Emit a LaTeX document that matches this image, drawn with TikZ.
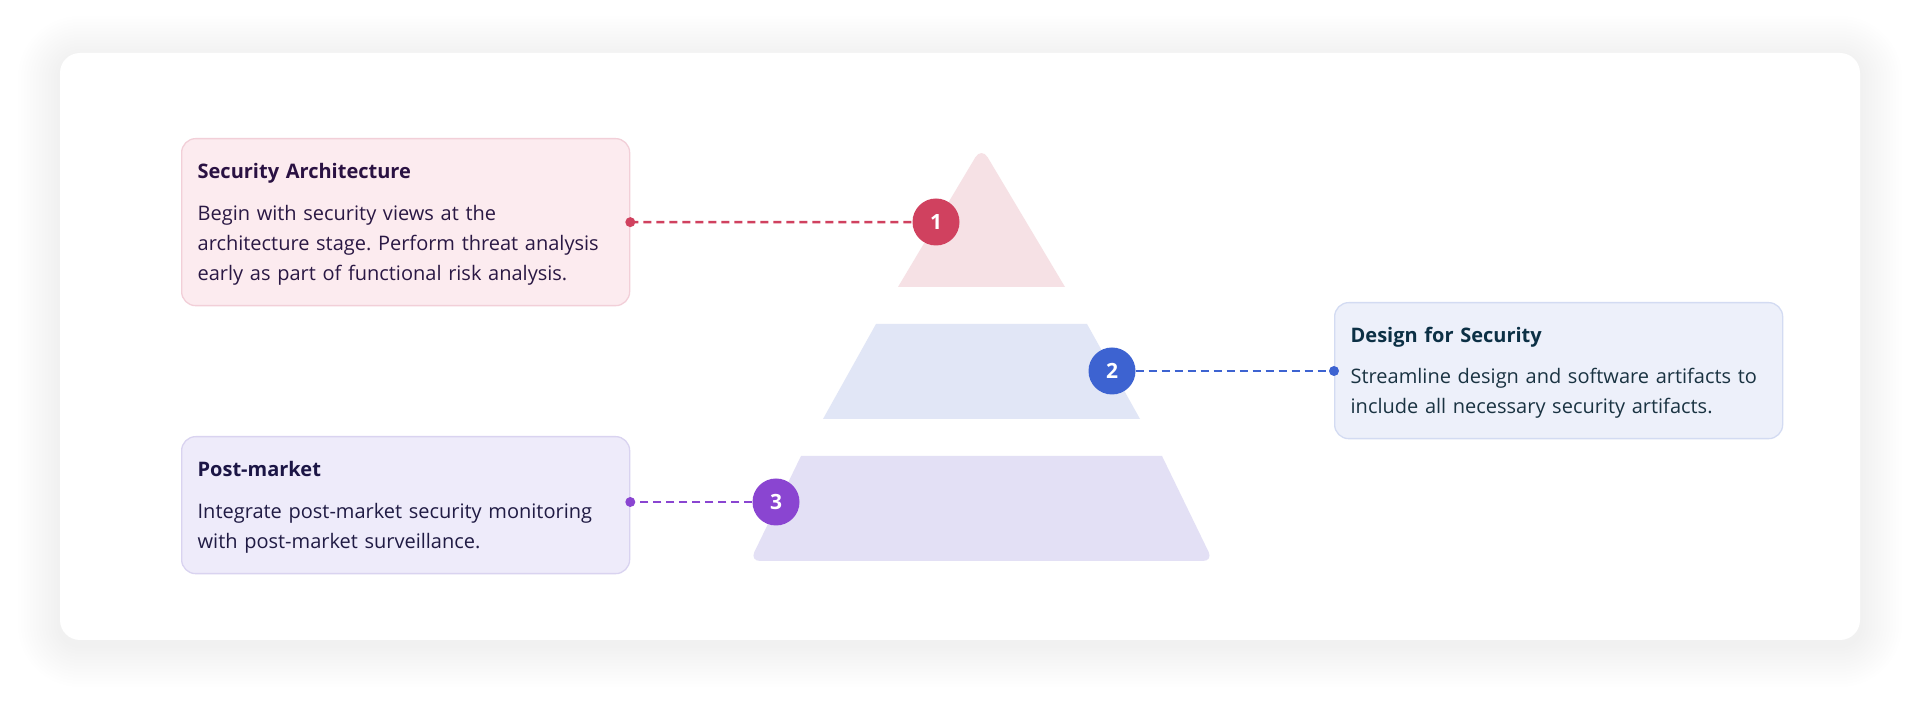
\documentclass[tikz,border=0pt]{standalone}
\usepackage{fontspec}
\setmainfont{Open Sans}
\usepackage{tkz-euclide}
\usetikzlibrary{calc}
\definecolor{PinkLayer}{HTML}{F6E1E5}
\definecolor{PinkBox}{HTML}{FCEBEF}
\definecolor{PinkLine}{HTML}{F2CFD8}
\definecolor{BlueLayer}{HTML}{E1E6F6}
\definecolor{BlueBox}{HTML}{EDF0FA}
\definecolor{BlueLine}{HTML}{D3DBF2}
\definecolor{VioletLayer}{HTML}{E3E0F5}
\definecolor{VioletBox}{HTML}{EEEBFA}
\definecolor{VioletLine}{HTML}{D9D3F0}
\definecolor{RedClr}{HTML}{D0415F}
\definecolor{BlueClr}{HTML}{3D63D1}
\definecolor{VioletClr}{HTML}{8A45D1}
\definecolor{TitleA}{HTML}{2A1142}
\definecolor{TextA}{HTML}{2A1844}
\definecolor{TitleB}{HTML}{0C3045}
\definecolor{TextB}{HTML}{1A3342}
\definecolor{TitleC}{HTML}{1B1545}
\definecolor{TextC}{HTML}{201B44}
\frenchspacing

\tikzset{
  infobox/.style={draw=#1Line, fill=#1Box, line width=1.3pt, rounded corners=14pt,
    anchor=north west, text width=416pt, inner xsep=16pt, inner ysep=0pt,
    align=left, font=\fontsize{20}{30}\selectfont},
  badge/.style={circle, fill=#1, minimum size=47pt, inner sep=0pt, text=white,
    font=\bfseries\fontsize{21}{21}\selectfont},
  link/.style={#1, line width=2.5pt, dash pattern=on 8pt off 5pt},
}

\begin{document}
\begin{tikzpicture}[x=1pt,y=1pt]
\useasboundingbox (0,0) rectangle (1920,708);

% card and its shadow
\foreach \k in {1,...,14}
  \fill[black,opacity=.0035,rounded corners={(20+3*\k)*1pt}]
    ({60-3*\k},{63-3*\k}) rectangle ({1860+3*\k},{650+3*\k});
\fill[white,rounded corners=20pt] (60,68) rectangle (1860,655);

% pyramid
\tkzDefPoints{898/421/T1,981.5/561/T2,1065/421/T3}
\tkzDefPoints{823/289/M1,876/384/M2,1087/384/M3,1140/289/M4}
\tkzDefPoints{750/147/B1,801/252/B2,1162/252/B3,1213/147/B4}

\fill[PinkLayer] (T1) [rounded corners=12pt] -- (T2) [sharp corners] -- (T3) -- cycle;
\tkzFillPolygon[fill=BlueLayer](M1,M2,M3,M4)
\fill[VioletLayer] (B2) -- (B3) [rounded corners=10pt] -- (B4) -- (B1) [sharp corners] -- cycle;

% text boxes
\node[infobox=Pink] (arch) at (181,570) {\rule{0pt}{40pt}{\bfseries\color{TitleA}Security Architecture}\\[12pt]
  \color{TextA}Begin with security views at the\\
  architecture stage. Perform threat analysis\\
  early as part of functional risk analysis.\rule[-25pt]{0pt}{25pt}};
\node[infobox=Blue] (design) at (1334,406) {\rule{0pt}{40pt}{\bfseries\color{TitleB}Design for Security}\\[11pt]
  \color{TextB}Streamline design and software artifacts to\\
  include all necessary security artifacts.\rule[-25pt]{0pt}{25pt}};
\node[infobox=Violet] (post) at (181,272) {\rule{0pt}{40pt}{\bfseries\color{TitleC}Post-market}\\[12pt]
  \color{TextC}Integrate post-market security monitoring\\
  with post-market surveillance.\rule[-25pt]{0pt}{25pt}};

% badges
\node[badge=RedClr] (n1) at (936,486) {1};
\node[badge=BlueClr] (n2) at (1112,337) {2};
\node[badge=VioletClr] (n3) at (776,206) {3};

% dashed links
\draw[link=RedClr] (arch.east) -- (n1);
\draw[link=BlueClr] (n2) -- (n2 -| design.west);
\draw[link=VioletClr] (n3) -- (n3 -| post.east);
\fill[RedClr] (arch.east) circle (5pt);
\fill[BlueClr] (n2 -| design.west) circle (5pt);
\fill[VioletClr] (n3 -| post.east) circle (5pt);

\end{tikzpicture}
\end{document}
